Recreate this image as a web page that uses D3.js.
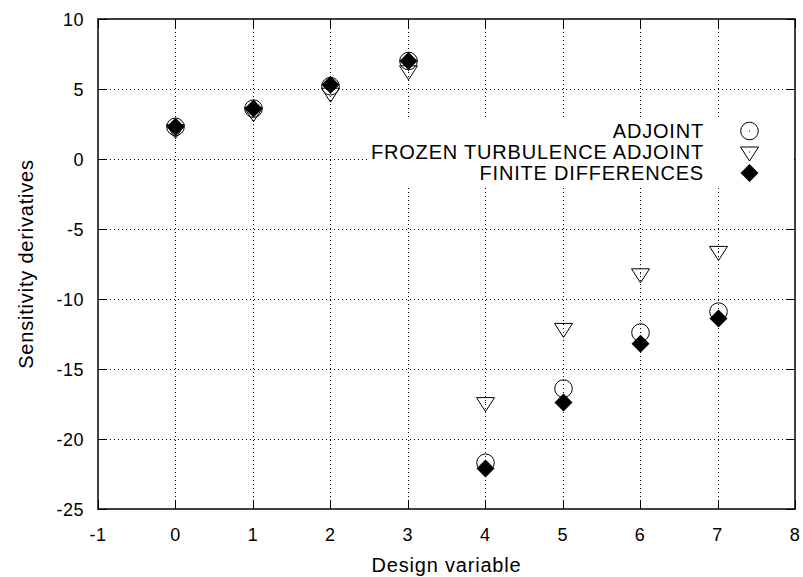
<!DOCTYPE html>
<html>
<head>
<meta charset="utf-8">
<script src="https://cdn.jsdelivr.net/npm/d3@7"></script>
<style>
  body { margin: 0; background: #fff; }
  text { font-family: "Liberation Sans", Arial, sans-serif; fill: #000; }
  .tick-label { font-size: 18px; letter-spacing: 0.5px; }
  .title, .legend { font-size: 20px; letter-spacing: 0.8px; }
</style>
</head>
<body>
<div id="chart"></div>
<script>
// dados
const designVars = [0, 1, 2, 3, 4, 5, 6, 7];
const adjoint = [2.3, 3.6, 5.2, 7.0, -21.7, -16.4, -12.4, -10.9];
const frozenAdjoint = [2.1, 3.3, 4.7, 6.3, -17.4, -12.1, -8.2, -6.6];
const finiteDiff = [2.3, 3.6, 5.3, 7.0, -22.1, -17.4, -13.2, -11.4];
const xTicks = [-1, 0, 1, 2, 3, 4, 5, 6, 7, 8];
const yTicks = [10, 5, 0, -5, -10, -15, -20, -25];
const legendLabels = ["ADJOINT", "FROZEN TURBULENCE ADJOINT", "FINITE DIFFERENCES"];

const width = 803, height = 577;
const margin = { left: 98, right: 8, top: 19, bottom: 68 };

const svg = d3.select("#chart").append("svg")
    .attr("width", width)
    .attr("height", height);

const x = d3.scaleLinear().domain([-1, 8]).range([margin.left, width - margin.right]);
const y = d3.scaleLinear().domain([-25, 10]).range([height - margin.bottom, margin.top]);

const x0 = x.range()[0], x1 = x.range()[1];
const y0 = y.range()[0], y1 = y.range()[1];
const px = v => Math.round(x(v)) + 0.5;
const py = v => Math.round(y(v)) + 0.5;

// grade pontilhada
const grid = svg.append("g").attr("stroke", "#000").attr("stroke-width", 1)
    .attr("stroke-dasharray", "1,3");
grid.selectAll(".gx").data(xTicks.slice(1, -1)).enter().append("line")
    .attr("x1", px).attr("x2", px)
    .attr("y1", y0).attr("y2", y1);
grid.selectAll(".gy").data(yTicks.slice(1, -1)).enter().append("line")
    .attr("y1", py).attr("y2", py)
    .attr("x1", x0).attr("x2", x1);

// ticks (dentro, espelhados)
const tk = 9;
const ticks = svg.append("g").attr("stroke", "#000").attr("stroke-width", 1);
xTicks.forEach(t => {
    ticks.append("line").attr("x1", px(t)).attr("x2", px(t)).attr("y1", y0).attr("y2", y0 - tk);
    ticks.append("line").attr("x1", px(t)).attr("x2", px(t)).attr("y1", y1).attr("y2", y1 + tk);
});
yTicks.forEach(t => {
    ticks.append("line").attr("x1", x0).attr("x2", x0 + tk).attr("y1", py(t)).attr("y2", py(t));
    ticks.append("line").attr("x1", x1).attr("x2", x1 - tk).attr("y1", py(t)).attr("y2", py(t));
});

// caixa da legenda (opaca, sem borda)
svg.append("rect")
    .attr("x", 367).attr("y", 119).attr("width", x1 - 367 - 1).attr("height", 66)
    .attr("fill", "#fff");

// moldura
svg.append("rect")
    .attr("x", x0).attr("y", y1).attr("width", x1 - x0).attr("height", y0 - y1)
    .attr("fill", "none").attr("stroke", "#000").attr("stroke-width", 1.5);

// rótulos dos eixos
svg.append("g").selectAll("text").data(xTicks).enter().append("text")
    .attr("class", "tick-label")
    .attr("x", d => x(d)).attr("y", y0 + 32)
    .attr("text-anchor", "middle").text(d => d);
svg.append("g").selectAll("text").data(yTicks).enter().append("text")
    .attr("class", "tick-label")
    .attr("x", x0 - 14).attr("y", d => y(d) + 7)
    .attr("text-anchor", "end").text(d => d);

svg.append("text").attr("class", "title")
    .attr("x", (x0 + x1) / 2).attr("y", 572)
    .attr("text-anchor", "middle").text("Design variable");
svg.append("text").attr("class", "title")
    .attr("transform", `translate(33,${(y0 + y1) / 2}) rotate(-90)`)
    .attr("text-anchor", "middle").text("Sensitivity derivatives");

// símbolos
const circleSym = d3.symbol().type(d3.symbolCircle).size(Math.PI * 8.8 * 8.8);
const triPath = "M-9,-5 L9,-5 L0,9 Z";
const diamondPath = "M0,-9 L9,0 L0,9 L-9,0 Z";
const dotPath = "M-0.5,-0.5 h1 v1 h-1 Z";

function drawMarker(g, kind) {
    if (kind === 0) {
        g.append("path").attr("d", circleSym).attr("fill", "none").attr("stroke", "#000");
        g.append("path").attr("d", dotPath).attr("fill", "#000");
    } else if (kind === 1) {
        g.append("path").attr("d", triPath).attr("fill", "none").attr("stroke", "#000");
        g.append("path").attr("d", dotPath).attr("fill", "#000");
    } else {
        g.append("path").attr("d", diamondPath).attr("fill", "#000");
    }
}

const series = [adjoint, frozenAdjoint, finiteDiff];
const pts = svg.append("g");
series.forEach((vals, k) => {
    pts.append("g").selectAll("g").data(designVars).enter().append("g")
        .attr("transform", (d, i) => `translate(${px(d)},${y(vals[i])})`)
        .each(function () { drawMarker(d3.select(this), k); });
});

// legenda
const legY = [131, 152, 173];
const leg = svg.append("g");
legendLabels.forEach((lab, i) => {
    leg.append("text").attr("class", "legend")
        .attr("x", 704).attr("y", legY[i] + 7)
        .attr("text-anchor", "end").text(lab);
    drawMarker(leg.append("g").attr("transform", `translate(749.5,${legY[i]})`), i);
});
</script>
</body>
</html>
